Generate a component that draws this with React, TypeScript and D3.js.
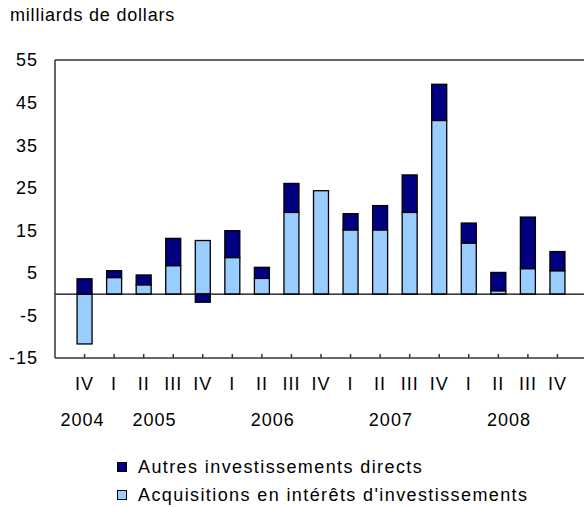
import React from 'react';
import * as d3 from 'd3';

// quarters, 2004 Q4 -> 2008 Q4
const quarters = ['IV', 'I', 'II', 'III', 'IV', 'I', 'II', 'III', 'IV', 'I', 'II', 'III', 'IV', 'I', 'II', 'III', 'IV'];
const years = ['2004', '2005', '2006', '2007', '2008'];
const yearOfQuarter = [0, 1, 1, 1, 1, 2, 2, 2, 2, 3, 3, 3, 3, 4, 4, 4, 4];

const acquisitions = [-11.7, 3.9, 2.2, 6.7, 12.6, 8.6, 3.7, 19.2, 24.3, 15.1, 15.1, 19.2, 40.8, 12.0, 0.8, 6.0, 5.5];
const autres = [3.6, 1.6, 2.3, 6.4, -1.9, 6.3, 2.6, 6.8, 0, 3.8, 5.7, 8.8, 8.5, 4.7, 4.3, 12.1, 4.5];

const yTicks = [55, 45, 35, 25, 15, 5, -5, -15];
const legendLabels = ['Autres investissements directs', "Acquisitions en intérêts d'investissements"];

const seriesKeys = ['acq', 'aut'];
const colors: Record<string, string> = { acq: '#99CCFF', aut: '#000080' };

const W = 584;
const H = 507;
const font = '"Liberation Sans", Arial, sans-serif';
const fs = 18;

export default function App() {
  const plot = { left: 55, right: 587, top: 60, bottom: 358 };

  const keys = quarters.map((q, i) => `${i}`);
  const x = d3.scalePoint<string>().domain(keys).range([plot.left, plot.right]).padding(1);
  const y = d3.scaleLinear().domain([-15, 55]).range([plot.bottom, plot.top]);
  const barW = 15;

  const rows = keys.map((k, i) => ({ key: k, acq: acquisitions[i], aut: autres[i] }));
  const stacked = d3.stack<any>().keys(seriesKeys).offset(d3.stackOffsetDiverging)(rows);

  // year label centered on its quarters (nudged left like the original)
  const yearCenters = years.map((yr, yi) => {
    const xs = keys.filter((k, i) => yearOfQuarter[i] === yi).map((k) => x(k) as number);
    return (d3.min(xs)! + d3.max(xs)!) / 2 - (xs.length > 1 ? 4 : 2);
  });

  const textStyle = { fontFamily: font, fontSize: fs, letterSpacing: 1, fill: '#000' };
  const titleStyle = { ...textStyle, letterSpacing: 0.8 };
  const legendStyle = { ...textStyle, letterSpacing: 1.4 };

  return (
    <div style={{ position: 'absolute', left: 0, top: 0 }}>
      <svg width={W} height={H} style={{ display: 'block', background: '#fff' }}>
        <text x={10} y={21} style={titleStyle}>milliards de dollars</text>

        {/* y axis labels */}
        {yTicks.map((t) => (
          <text key={t} x={38} y={y(t)} dy="0.36em" textAnchor="end" style={textStyle}>{t}</text>
        ))}

        {/* bars */}
        {stacked.map((s) => (
          <g key={s.key}>
            {s.map((d, i) => {
              const y0 = y(d[0]);
              const y1 = y(d[1]);
              const h = Math.abs(y0 - y1);
              if (h < 0.01) return null;
              return (
                <rect
                  key={i}
                  x={(x(keys[i]) as number) - barW / 2}
                  y={Math.min(y0, y1)}
                  width={barW}
                  height={h}
                  fill={colors[s.key]}
                  stroke="#000"
                  strokeWidth={1.3}
                />
              );
            })}
          </g>
        ))}

        {/* zero line */}
        <line x1={plot.left} x2={W} y1={y(0)} y2={y(0)} stroke="#000" strokeWidth={1.2} />

        {/* plot frame */}
        <line x1={plot.left} x2={W} y1={plot.top} y2={plot.top} stroke="#333" strokeWidth={1.5} />
        <line x1={plot.left} x2={plot.left} y1={plot.top} y2={plot.bottom} stroke="#333" strokeWidth={1.5} />
        <line x1={plot.left} x2={W} y1={plot.bottom} y2={plot.bottom} stroke="#333" strokeWidth={1.5} />

        {/* x ticks and quarter labels */}
        {keys.map((k, i) => (
          <g key={k} transform={`translate(${x(k)},0)`}>
            <line y1={plot.bottom} y2={plot.bottom - 4} stroke="#333" strokeWidth={1.5} />
            <text y={384} dy="0.36em" textAnchor="middle" style={textStyle}>{quarters[i]}</text>
          </g>
        ))}

        {years.map((yr, yi) => (
          <text key={yr} x={yearCenters[yi]} y={420} dy="0.36em" textAnchor="middle" style={textStyle}>{yr}</text>
        ))}

        {/* legend */}
        {legendLabels.map((lab, i) => (
          <g key={lab} transform={`translate(117,${467 + i * 28})`}>
            <rect x={0.5} y={-4.5} width={9} height={9} fill={i === 0 ? colors.aut : colors.acq} stroke="#000" strokeWidth={1} />
            <text x={21} dy="0.36em" style={legendStyle}>{lab}</text>
          </g>
        ))}
      </svg>
    </div>
  );
}
